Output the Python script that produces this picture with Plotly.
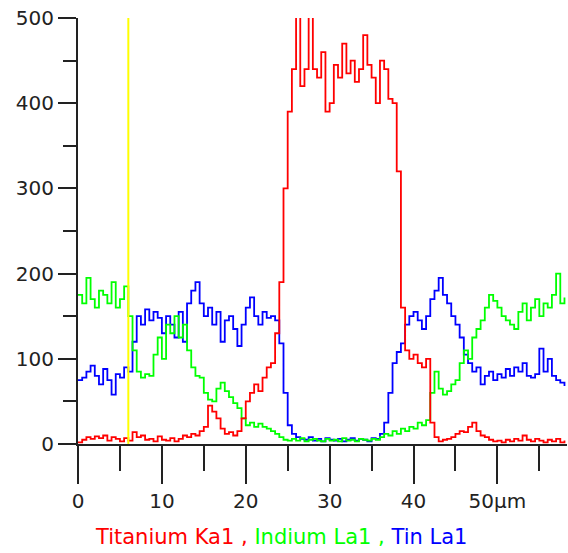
import plotly.graph_objects as go

# Position along the line scan (µm), 0.5 µm step
x_um = [i * 0.5 for i in range(117)]

titanium = [2, 5, 8, 6, 9, 7, 10, 4, 8, 6, 3, 7, 4, 14, 8, 10, 5, 6, 3, 9,
            5, 4, 7, 3, 6, 10, 8, 12, 10, 15, 20, 45, 38, 30, 18, 12, 14, 10, 15, 30,
            50, 60, 70, 62, 78, 90, 95, 130, 190, 300, 390, 440, 510, 420, 440, 510, 440, 430, 460, 390,
            400, 445, 430, 470, 435, 450, 425, 440, 480, 445, 430, 400, 450, 440, 405, 400, 320, 160, 110, 100,
            105, 95, 90, 100, 25, 8, 3, 5, 6, 8, 12, 15, 14, 20, 25, 15, 10, 8, 5, 3,
            4, 2, 5, 3, 6, 4, 10, 5, 3, 6, 4, 2, 5, 3, 6, 2, 4]

indium = [175, 165, 195, 170, 160, 180, 175, 165, 190, 160, 170, 185, 150, 110, 85, 78, 82, 80, 105, 125,
          100, 140, 130, 150, 125, 140, 110, 90, 80, 78, 60, 52, 50, 65, 72, 62, 55, 48, 42, 30,
          22, 25, 20, 24, 20, 18, 15, 12, 8, 5, 4, 6, 4, 7, 3, 5, 6, 4, 3, 6,
          4, 5, 3, 7, 4, 5, 3, 6, 5, 4, 6, 5, 8, 12, 10, 15, 12, 18, 15, 20,
          18, 25, 22, 28, 60, 85, 65, 58, 62, 70, 75, 95, 110, 100, 125, 135, 145, 160, 175, 168,
          160, 150, 145, 140, 135, 155, 165, 145, 160, 170, 150, 165, 160, 175, 200, 165, 172]

tin = [75, 78, 85, 92, 80, 70, 88, 75, 58, 82, 78, 90, 85, 120, 150, 140, 158, 145, 155, 148,
       130, 150, 140, 125, 155, 120, 165, 180, 190, 165, 150, 160, 140, 155, 120, 145, 150, 135, 115, 140,
       160, 172, 150, 140, 155, 148, 150, 145, 118, 60, 22, 12, 8, 6, 5, 8, 4, 6, 3, 7,
       5, 4, 6, 3, 5, 7, 4, 6, 5, 3, 7, 6, 12, 25, 60, 95, 108, 118, 140, 150,
       155, 145, 135, 150, 170, 180, 195, 175, 165, 150, 140, 125, 105, 95, 85, 90, 70, 80, 85, 75,
       82, 78, 88, 80, 90, 85, 95, 80, 78, 82, 112, 85, 100, 80, 75, 72, 68]

series_names = ["Titanium Ka1", "Indium La1", "Tin La1"]
series_colors = ["#ff0000", "#00ff00", "#0000ff"]

x_tick_vals = [0, 10, 20, 30, 40, 50]
x_tick_text = ["0", "10", "20", "30", "40", "50µm"]
y_tick_vals = [0, 100, 200, 300, 400, 500]
cursor_x = 6.0
x_max = 58.3
y_max = 500

font_family = "DejaVu Sans"

fig = go.Figure()
for vals, name, col in [(tin, series_names[2], series_colors[2]),
                        (indium, series_names[1], series_colors[1]),
                        (titanium, series_names[0], series_colors[0])]:
    fig.add_trace(go.Scatter(x=x_um, y=vals, mode="lines", name=name,
                             line=dict(color=col, width=1.8, shape="hv")))

fig.add_shape(type="line", x0=cursor_x, x1=cursor_x, y0=0, y1=y_max,
              xref="x", yref="y", line=dict(color="#ffff00", width=2))

legend_text = (f"<span style='color:{series_colors[0]}'>{series_names[0]}</span>"
               f"<span style='color:{series_colors[0]}'> , </span>"
               f"<span style='color:{series_colors[1]}'>{series_names[1]}</span>"
               f"<span style='color:{series_colors[1]}'> , </span>"
               f"<span style='color:{series_colors[2]}'>{series_names[2]}</span>")
fig.add_annotation(text=legend_text, xref="paper", yref="paper", x=0.415, y=-0.219,
                   xanchor="center", yanchor="middle", showarrow=False,
                   font=dict(family=font_family, size=21))

fig.update_layout(
    width=568, height=553,
    margin=dict(l=78, r=1, t=18, b=109, autoexpand=False),
    paper_bgcolor="white", plot_bgcolor="white",
    showlegend=False,
    font=dict(family=font_family, size=20, color="#222222"),
)
fig.update_xaxes(range=[0, x_max], showgrid=False, zeroline=False, automargin=False,
                 showline=True, linecolor="#222222", linewidth=2,
                 ticks="outside", ticklen=38, tickwidth=2, tickcolor="#222222",
                 tickvals=x_tick_vals, ticktext=x_tick_text,
                 minor=dict(dtick=5, tick0=0, ticks="outside", ticklen=25,
                            tickwidth=2, tickcolor="#222222", showgrid=False))
fig.update_yaxes(range=[0, y_max], showgrid=False, zeroline=False, automargin=False,
                 showline=True, linecolor="#222222", linewidth=2,
                 ticks="outside", ticklen=18, tickwidth=2, tickcolor="#222222",
                 tickvals=y_tick_vals,
                 minor=dict(dtick=50, tick0=0, ticks="outside", ticklen=13,
                            tickwidth=2, tickcolor="#222222", showgrid=False))

fig.write_html("out.html", config={"displayModeBar": False},
               post_script="document.body.style.margin='0';document.body.style.overflow='hidden';")
